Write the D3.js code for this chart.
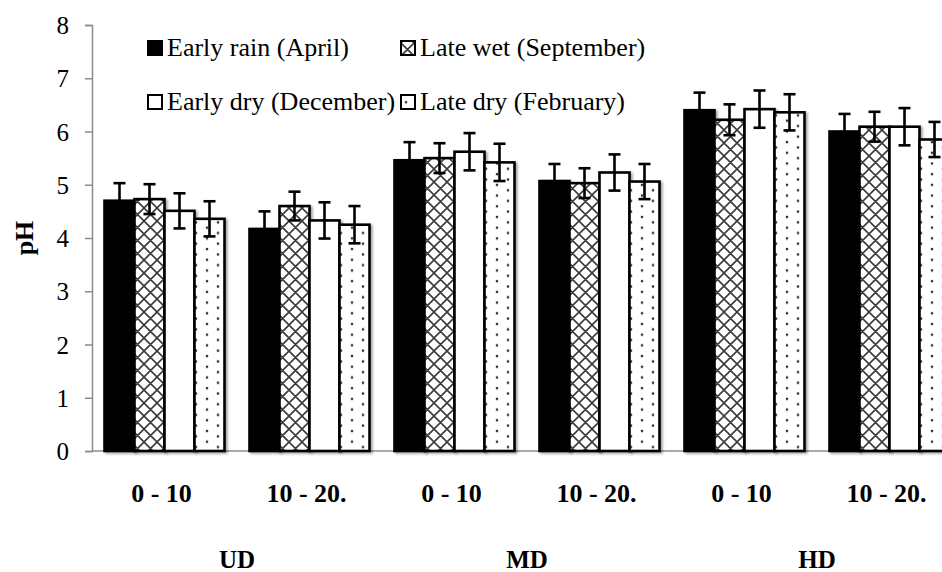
<!DOCTYPE html>
<html>
<head>
<meta charset="utf-8">
<script src="https://cdn.jsdelivr.net/npm/d3@7/dist/d3.min.js"></script>
<style>
html,body{margin:0;padding:0;background:#fff;}
svg{display:block;}
text{font-family:"Liberation Serif","Times New Roman",serif;fill:#000;}
</style>
</head>
<body>
<svg id="chart" width="942" height="572"></svg>
<script>
// ---------- data ----------
const depths = ["0 - 10", "10 - 20.", "0 - 10", "10 - 20.", "0 - 10", "10 - 20."];
const sites = ["UD", "MD", "HD"];
const seriesNames = ["Early rain (April)", "Late wet (September)", "Early dry (December)", "Late dry (February)"];
const earlyRain = [4.70, 4.17, 5.46, 5.07, 6.40, 6.00];
const lateWet   = [4.73, 4.60, 5.50, 5.03, 6.22, 6.09];
const earlyDry  = [4.51, 4.33, 5.62, 5.23, 6.42, 6.09];
const lateDry   = [4.36, 4.25, 5.42, 5.06, 6.36, 5.85];
const errEarlyRain = [0.33, 0.33, 0.34, 0.32, 0.33, 0.33];
const errLateWet   = [0.28, 0.27, 0.28, 0.28, 0.29, 0.28];
const errEarlyDry  = [0.33, 0.34, 0.35, 0.34, 0.35, 0.35];
const errLateDry   = [0.33, 0.35, 0.35, 0.33, 0.34, 0.33];
const yTicks = [0, 1, 2, 3, 4, 5, 6, 7, 8];
const yLabel = "pH";

const values = [earlyRain, lateWet, earlyDry, lateDry];
const errors = [errEarlyRain, errLateWet, errEarlyDry, errLateDry];

const FONT = "'Liberation Serif', 'Times New Roman', serif";

// ---------- layout ----------
const svg = d3.select("#chart");
const plotLeft = 92, plotTop = 25, plotBottom = 451, step = 145;
const groupIdx = d3.range(depths.length);

const x0 = d3.scaleBand().domain(groupIdx).range([plotLeft, plotLeft + step * depths.length]).padding(0);
const x1 = d3.scaleBand().domain(d3.range(4)).range([12.5, 132.5]).padding(0);
const y = d3.scaleLinear().domain([0, 8]).range([plotBottom, plotTop]);

// ---------- patterns & filters ----------
const defs = svg.append("defs");
const cross = defs.append("pattern").attr("id", "cross").attr("patternUnits", "userSpaceOnUse")
  .attr("width", 13).attr("height", 13).attr("x", 0).attr("y", 0);
cross.append("rect").attr("width", 13).attr("height", 13).attr("fill", "#fff");
cross.append("path").attr("d", "M0,0L13,13M13,0L0,13M-1,12L1,14M12,-1L14,1M12,14L14,12M-1,1L1,-1")
  .attr("stroke", "#3a3a3a").attr("stroke-width", 1.6).attr("fill", "none");

const dots = defs.append("pattern").attr("id", "dots").attr("patternUnits", "userSpaceOnUse")
  .attr("width", 22).attr("height", 10.7);
dots.append("rect").attr("width", 22).attr("height", 10.7).attr("fill", "#fff");
dots.append("circle").attr("cx", 5).attr("cy", 3).attr("r", 1.3).attr("fill", "#333");
dots.append("circle").attr("cx", 16).attr("cy", 8.35).attr("r", 1.3).attr("fill", "#333");

const shadow = defs.append("filter").attr("id", "shadow").attr("x", "-20%").attr("y", "-5%").attr("width", "140%").attr("height", "110%");
shadow.append("feDropShadow").attr("dx", 2).attr("dy", 1.5).attr("stdDeviation", 1.2)
  .attr("flood-color", "#000").attr("flood-opacity", 0.35);

const fills = ["#000", "url(#cross)", "#fff", "url(#dots)"];

// ---------- axes ----------
const yAxis = d3.axisLeft(y).tickValues(yTicks).tickSize(7).tickFormat(d3.format("d"));
const gy = svg.append("g").attr("transform", `translate(${plotLeft},0)`).call(yAxis)
  .attr("font-family", FONT);
gy.select(".domain").attr("stroke", "#8c8c8c").attr("stroke-width", 1.5);
gy.selectAll(".tick line").attr("stroke", "#8c8c8c").attr("stroke-width", 1.5);
gy.selectAll(".tick text").attr("x", -23).attr("dy", "0.34em")
  .attr("font-family", FONT).style("font-family", FONT).style("font-size", "25px").attr("fill", "#000");

svg.append("line").attr("x1", plotLeft).attr("x2", 942).attr("y1", plotBottom).attr("y2", plotBottom)
  .attr("stroke", "#8c8c8c").attr("stroke-width", 1.5);

// ---------- bars ----------
const groups = svg.append("g").selectAll("g").data(groupIdx).join("g")
  .attr("transform", d => `translate(${x0(d)},0)`);

groups.selectAll("rect").data(g => values.map((s, i) => ({ s: i, v: s[g], e: errors[i][g] })))
  .join("rect")
  .attr("x", d => x1(d.s))
  .attr("y", d => y(d.v))
  .attr("width", x1.bandwidth())
  .attr("height", d => y(0) - y(d.v))
  .attr("fill", d => fills[d.s])
  .attr("stroke", "#000").attr("stroke-width", 2.6)
  .attr("filter", "url(#shadow)");

// error bars
const eb = groups.selectAll("g.err").data(g => values.map((s, i) => ({ s: i, v: s[g], e: errors[i][g] })))
  .join("g").attr("class", "err");
eb.append("line")
  .attr("x1", d => x1(d.s) + x1.bandwidth() / 2).attr("x2", d => x1(d.s) + x1.bandwidth() / 2)
  .attr("y1", d => y(d.v - d.e)).attr("y2", d => y(d.v + d.e))
  .attr("stroke", "#000").attr("stroke-width", 2.6);
eb.append("line")
  .attr("x1", d => x1(d.s) + x1.bandwidth() / 2 - 6).attr("x2", d => x1(d.s) + x1.bandwidth() / 2 + 6)
  .attr("y1", d => y(d.v + d.e)).attr("y2", d => y(d.v + d.e))
  .attr("stroke", "#000").attr("stroke-width", 2.6);
eb.append("line")
  .attr("x1", d => x1(d.s) + x1.bandwidth() / 2 - 6).attr("x2", d => x1(d.s) + x1.bandwidth() / 2 + 6)
  .attr("y1", d => y(d.v - d.e)).attr("y2", d => y(d.v - d.e))
  .attr("stroke", "#000").attr("stroke-width", 2.6);

// ---------- category labels ----------
svg.append("g").selectAll("text").data(groupIdx).join("text")
  .attr("x", d => x0(d) + step / 2 - 3)
  .attr("y", 502)
  .attr("text-anchor", "middle")
  .attr("font-family", FONT)
  .style("font-size", "26px").style("font-weight", "bold")
  .text(d => depths[d]);

svg.append("g").selectAll("text").data(sites).join("text")
  .attr("x", (d, i) => x0(i * 2) + step)
  .attr("y", 568)
  .attr("text-anchor", "middle")
  .attr("font-family", FONT)
  .style("font-size", "25px").style("font-weight", "bold")
  .text(d => d);

// y label
svg.append("text")
  .attr("transform", `translate(33,${(plotTop + plotBottom) / 2}) rotate(-90)`)
  .attr("text-anchor", "middle")
  .attr("font-family", FONT)
  .style("font-size", "26px").style("font-weight", "bold")
  .text(yLabel);

// ---------- legend ----------
const legendPos = [[148, 56], [401, 56], [148, 110], [401, 110]];
const legend = svg.append("g").selectAll("g").data(seriesNames).join("g")
  .attr("transform", (d, i) => `translate(${legendPos[i][0]},${legendPos[i][1]})`);
legend.append("rect").attr("x", 0).attr("y", -15).attr("width", 14).attr("height", 14)
  .attr("fill", (d, i) => fills[i])
  .attr("stroke", "#000").attr("stroke-width", 2);
legend.append("text").attr("x", 19).attr("y", 0)
  .attr("font-family", FONT)
  .style("font-size", "26px")
  .text(d => d);
</script>
</body>
</html>
